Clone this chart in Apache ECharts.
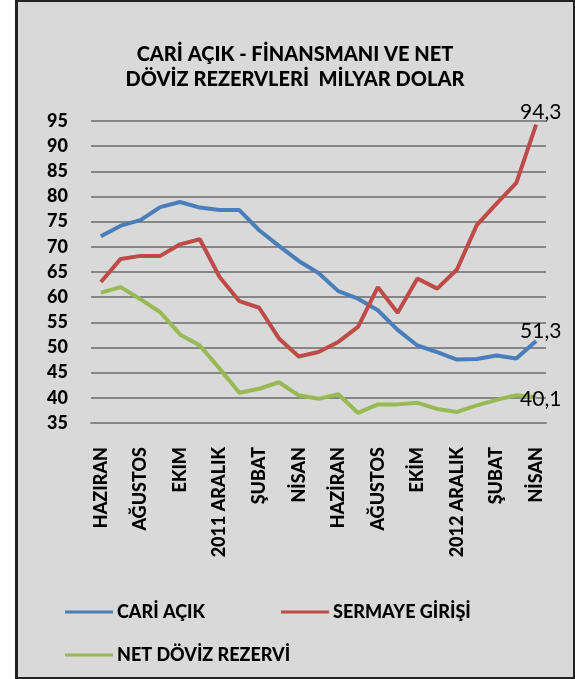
<!DOCTYPE html>
<html>
<head>
<meta charset="utf-8">
<script src="https://cdn.jsdelivr.net/npm/echarts@6/dist/echarts.min.js"></script>
<style>
  html, body { margin: 0; padding: 0; background: #fff; }
  .frame {
    position: absolute; left: 15px; top: 0; width: 560px; height: 679px;
    box-sizing: border-box; background: #d9d9d9;
    border: 2px solid #222; border-left-width: 3px;
  }
  #myChart { position: absolute; left: 0; top: 0; width: 575px; height: 679px; }
</style>
</head>
<body>
<div class="frame"></div>
<div id="myChart"></div>
<script>
// aylar: Haziran 2010 - Nisan 2012
const months = ['HAZIRAN', 'TEMMUZ', 'AĞUSTOS', 'EYLÜL', 'EKIM', 'KASIM', '2011 ARALIK',
  'OCAK', 'ŞUBAT', 'MART', 'NİSAN', 'MAYIS', 'HAZİRAN', 'TEMMUZ', 'AĞUSTOS', 'EYLÜL',
  'EKİM', 'KASIM', '2012 ARALIK', 'OCAK', 'ŞUBAT', 'MART', 'NİSAN']
const cariAcik = [72.1, 74.2, 75.3, 77.9, 78.9, 77.8, 77.3, 77.3, 73.3, 70.2, 67.2, 64.8,
  61.2, 59.7, 57.4, 53.5, 50.4, 49.1, 47.6, 47.7, 48.4, 47.8, 51.3]
const sermayeGirisi = [63.0, 67.6, 68.2, 68.2, 70.5, 71.5, 64.0, 59.2, 57.9, 51.8, 48.2, 49.1,
  51.1, 54.1, 62.0, 56.9, 63.7, 61.7, 65.5, 74.3, 78.6, 82.7, 94.3]
const netRezerv = [60.9, 62.0, 59.6, 57.0, 52.6, 50.4, 45.8, 41.0, 41.8, 43.1, 40.5, 39.8,
  40.7, 37.0, 38.7, 38.7, 39.0, 37.8, 37.2, 38.5, 39.6, 40.5, 40.1]

const font = 'Lato'
const heavy = 900
const chart = echarts.init(document.getElementById('myChart'))

function lineSeries(name, data, color, labelOffset) {
  return {
    name: name,
    type: 'line',
    data: data,
    showSymbol: false,
    lineStyle: { width: 4, color: color },
    itemStyle: { color: color },
    endLabel: {
      show: true,
      distance: 0,
      offset: labelOffset,
      fontFamily: font,
      fontSize: 21,
      color: '#000',
      formatter: p => String(p.value).replace('.', ',')
    },
    z: 3
  }
}

function legendAt(name, left, top) {
  return {
    data: [name],
    left: left,
    top: top,
    icon: 'rect',
    itemWidth: 48,
    itemHeight: 3,
    itemGap: 0,
    textStyle: { fontFamily: font, fontWeight: heavy, fontSize: 18, color: '#000', padding: [0, 0, 0, -1] }
  }
}

chart.setOption({
  backgroundColor: 'transparent',
  animation: false,
  title: {
    text: 'CARİ AÇIK - FİNANSMANI VE NET\nDÖVİZ REZERVLERİ  MİLYAR DOLAR',
    left: 290,
    textAlign: 'center',
    top: 37,
    textStyle: { fontFamily: font, fontWeight: heavy, fontSize: 20, lineHeight: 25, color: '#000' }
  },
  legend: [
    legendAt('CARİ AÇIK', 60, 598),
    legendAt('SERMAYE GİRİŞİ', 276, 598),
    legendAt('NET DÖVİZ REZERVİ', 60, 641)
  ],
  grid: { left: 91, right: 29, top: 121, bottom: 256 },
  xAxis: {
    type: 'category',
    data: months,
    boundaryGap: true,
    axisLine: { lineStyle: { color: '#868686', width: 2 } },
    axisTick: { show: false },
    axisLabel: {
      interval: 1,
      rotate: 90,
      margin: 24,
      fontFamily: font,
      fontWeight: heavy,
      fontSize: 18,
      color: '#000'
    }
  },
  yAxis: {
    type: 'value',
    min: 35,
    max: 95,
    interval: 5,
    axisLine: { show: false },
    axisTick: { show: false },
    splitLine: { lineStyle: { color: '#868686', width: 2 } },
    axisLabel: { margin: 23, fontFamily: font, fontWeight: heavy, fontSize: 18, color: '#000' }
  },
  series: [
    lineSeries('CARİ AÇIK', cariAcik, '#4a7ebb', [-16, -10]),
    lineSeries('SERMAYE GİRİŞİ', sermayeGirisi, '#be4b48', [-16, -12]),
    lineSeries('NET DÖVİZ REZERVİ', netRezerv, '#98b954', [-16, 2])
  ]
})
</script>
</body>
</html>
